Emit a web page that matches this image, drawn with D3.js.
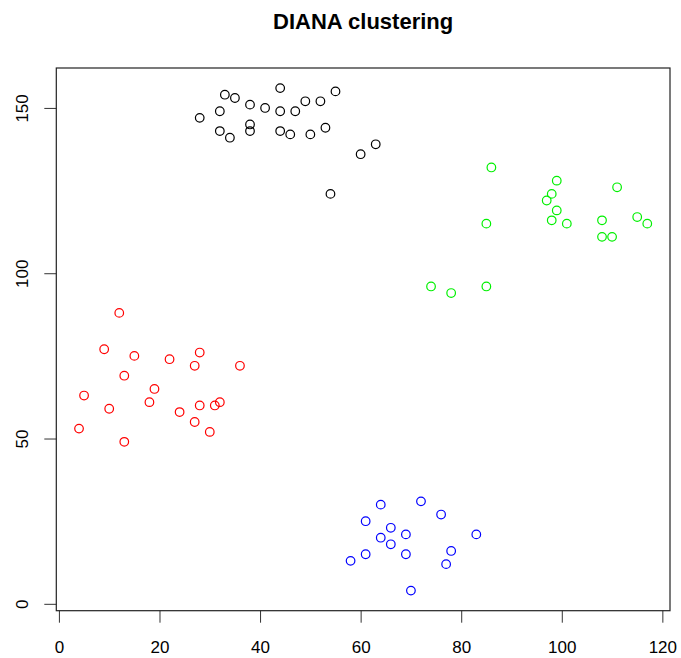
<!DOCTYPE html>
<html>
<head>
<meta charset="utf-8">
<script src="https://cdn.jsdelivr.net/npm/d3@7"></script>
<style>
  html, body { margin: 0; padding: 0; background: #fff; }
  svg text { font-family: "Liberation Sans", Arial, Helvetica, sans-serif; }
</style>
</head>
<body>
<svg id="chart" width="681" height="658"></svg>
<script>
// Observations of each cluster cut from the divisive hierarchy
const group1X = [28, 32, 32, 34, 33, 35, 38, 38, 38, 41, 44, 44, 44, 46, 47, 49, 50, 52, 53, 55, 60, 63, 54];
const group1Y = [147, 149, 143, 141, 154, 153, 151, 145, 143, 150, 156, 149, 143, 142, 149, 152, 142, 152, 144, 155, 136, 139, 124];

const group2X = [12, 9, 15, 22, 28, 27, 36, 13, 19, 5, 18, 10, 24, 28, 31, 32, 27, 30, 4, 13];
const group2Y = [88, 77, 75, 74, 76, 72, 72, 69, 65, 63, 61, 59, 58, 60, 60, 61, 55, 52, 53, 49];

const group3X = [86, 85, 74, 78, 85, 99, 98, 97, 99, 98, 101, 108, 108, 110, 111, 115, 117];
const group3Y = [132, 115, 96, 94, 96, 128, 124, 122, 119, 116, 115, 116, 111, 111, 126, 117, 115];

const group4X = [64, 72, 76, 61, 66, 69, 64, 66, 83, 61, 58, 69, 78, 77, 70];
const group4Y = [30, 31, 27, 25, 23, 21, 20, 18, 21, 15, 13, 15, 16, 12, 4];

const groupColors = ["#000000", "#FF0000", "#00F000", "#0000FF"];
const xTicks = [0, 20, 40, 60, 80, 100, 120];
const yTicks = [0, 50, 100, 150];
const titleText = "DIANA clustering";

const groups = [
  { xs: group1X, ys: group1Y },
  { xs: group2X, ys: group2Y },
  { xs: group3X, ys: group3Y },
  { xs: group4X, ys: group4Y }
];
const points = groups.flatMap((g, gi) => g.xs.map((x, i) => ({ x, y: g.ys[i], g: gi })));

const svg = d3.select("#chart");
const plotLeft = 56.3, plotRight = 670, plotTop = 68, plotBottom = 610.7;

// Axis limits padded by 4% of the data range on each side
function padded(ext) {
  const d = (ext[1] - ext[0]) * 0.04;
  return [ext[0] - d, ext[1] + d];
}
const x = d3.scaleLinear().domain(padded(d3.extent(points, d => d.x))).range([plotLeft, plotRight]);
const y = d3.scaleLinear().domain(padded(d3.extent(points, d => d.y))).range([plotBottom, plotTop]);

// Title
svg.append("text")
  .attr("x", (plotLeft + plotRight) / 2)
  .attr("y", 28.5)
  .attr("text-anchor", "middle")
  .attr("font-weight", "bold")
  .attr("font-size", 22)
  .attr("fill", "#000")
  .text(titleText);

// Bottom axis
const xAxis = svg.append("g")
  .attr("transform", `translate(0,${plotBottom})`)
  .call(d3.axisBottom(x).tickValues(xTicks).tickSize(12).tickPadding(18).tickFormat(d3.format("d")));
xAxis.select(".domain").remove();
xAxis.selectAll("line").attr("stroke", "#333").attr("stroke-width", 1);
xAxis.selectAll("text").attr("font-size", 17).attr("fill", "#000");

// Left axis with rotated labels
const yAxis = svg.append("g")
  .attr("transform", `translate(${plotLeft},0)`)
  .call(d3.axisLeft(y).tickValues(yTicks).tickSize(12).tickFormat(d3.format("d")));
yAxis.select(".domain").remove();
yAxis.selectAll("line").attr("stroke", "#333").attr("stroke-width", 1);
yAxis.selectAll("text")
  .attr("font-size", 17)
  .attr("fill", "#000")
  .attr("transform", "rotate(-90)")
  .attr("x", 0)
  .attr("y", -28.3)
  .attr("dy", null)
  .attr("text-anchor", "middle");

// Plot frame
svg.append("rect")
  .attr("x", plotLeft)
  .attr("y", plotTop)
  .attr("width", plotRight - plotLeft)
  .attr("height", plotBottom - plotTop)
  .attr("fill", "none")
  .attr("stroke", "#222")
  .attr("stroke-width", 1.2);

// Observations as open circles coloured by cluster
svg.append("g")
  .selectAll("circle")
  .data(points)
  .join("circle")
  .attr("cx", d => x(d.x))
  .attr("cy", d => y(d.y))
  .attr("r", 4.3)
  .attr("fill", "none")
  .attr("stroke", d => groupColors[d.g])
  .attr("stroke-width", 1.2);
</script>
</body>
</html>
